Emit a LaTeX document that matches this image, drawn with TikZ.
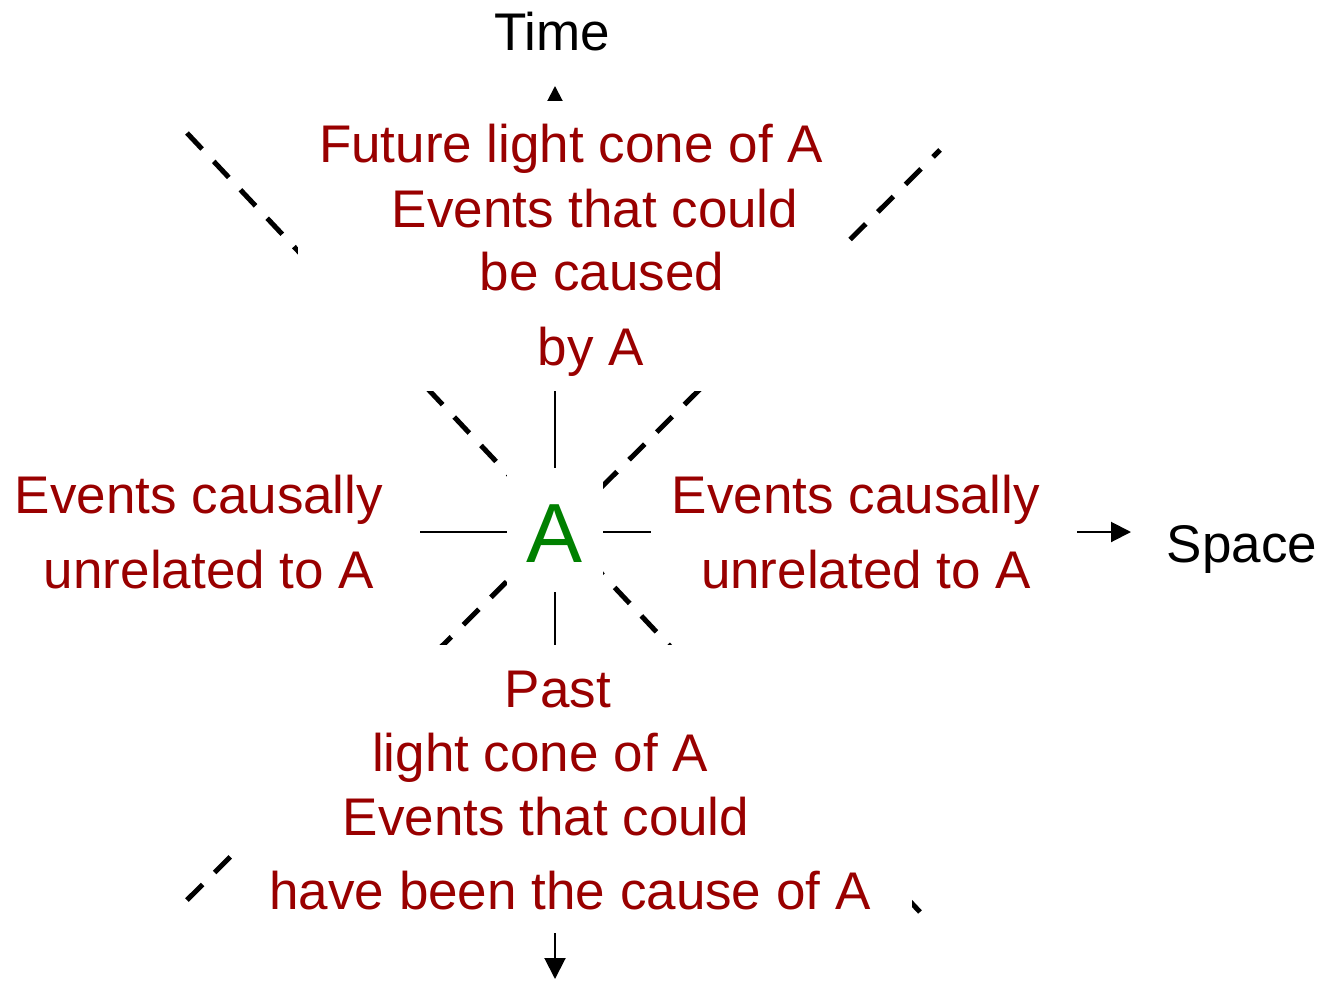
\documentclass[tikz,border=0pt]{standalone}
\usepackage{fontspec}
\setmainfont{Liberation Sans}
\usetikzlibrary{arrows.meta}
\definecolor{cred}{RGB}{153,0,0}
\definecolor{cgreen}{RGB}{0,128,0}
\tikzset{
  cone/.style={line width=5pt, dash pattern=on 22pt off 17pt, black},
  axis/.style={line width=2pt, black},
  mask/.style={fill=white, draw=none, inner sep=0pt, outer sep=0pt},
  lbl/.style={inner sep=0pt, anchor=base, text=cred, font=\fontsize{53pt}{64pt}\selectfont},
  ax/.style={inner sep=0pt, anchor=base, text=black, font=\fontsize{53pt}{64pt}\selectfont},
}
\begin{document}
\begin{tikzpicture}[x=1pt,y=-1pt]
\useasboundingbox (0,0) rectangle (1325,980);
% light cone edges
\coordinate (c1a) at (187,133);
\coordinate (c1b) at (920,912);
\coordinate (c2a) at (940,150);
\coordinate (c2b) at (187,900);
\draw[cone] (c1a) -- (c1b);
\draw[cone] (c2b) -- (c2a);
% axes
\coordinate (tTop) at (555,86);
\coordinate (tBot) at (555,979);
\coordinate (sL) at (420,532);
\coordinate (sR) at (1131,532);
\draw[axis, arrows={Triangle[length=15pt,width=15pt]-Triangle[length=21pt,width=21pt]}] (tTop) -- (tBot);
\draw[axis, -{Triangle[length=20pt,width=20pt]}] (sL) -- (sR);
% white text boxes
\node[mask, minimum width=547pt, minimum height=290pt] (futurebox) at (571.5,246) {};
\node[mask, minimum width=96pt, minimum height=124pt] (abox) at (555,530) {};
\node[mask, minimum width=426pt, minimum height=130pt] (rightbox) at (864,535) {};
\node[mask, minimum width=679pt, minimum height=288pt] (pastbox) at (572.5,789) {};
% texts
\node[ax] (time) at (552,50) {Time};
\node[ax] (space) at (1242,562) {Space};
\node[inner sep=0pt, anchor=base, text=cgreen, font=\fontsize{84pt}{90pt}\selectfont] (A) at (555,562) {A};
\node[lbl] (f1) at (571,162) {Future light cone of A};
\node[lbl] (f2) at (595,227) {Events that could};
\node[lbl] (f3) at (602,290) {be caused};
\node[lbl] (f4) at (591,365) {by A};
\node[lbl] (l1) at (199,513) {Events causally};
\node[lbl] (l2) at (209,588) {unrelated to A};
\node[lbl] (r1) at (856,513) {Events causally};
\node[lbl] (r2) at (866,588) {unrelated to A};
\node[lbl] (p1) at (558,707) {Past};
\node[lbl] (p2) at (540,771) {light cone of A};
\node[lbl] (p3) at (546,835) {Events that could};
\node[lbl] (p4) at (570,909) {have been the cause of A};
\end{tikzpicture}
\end{document}
